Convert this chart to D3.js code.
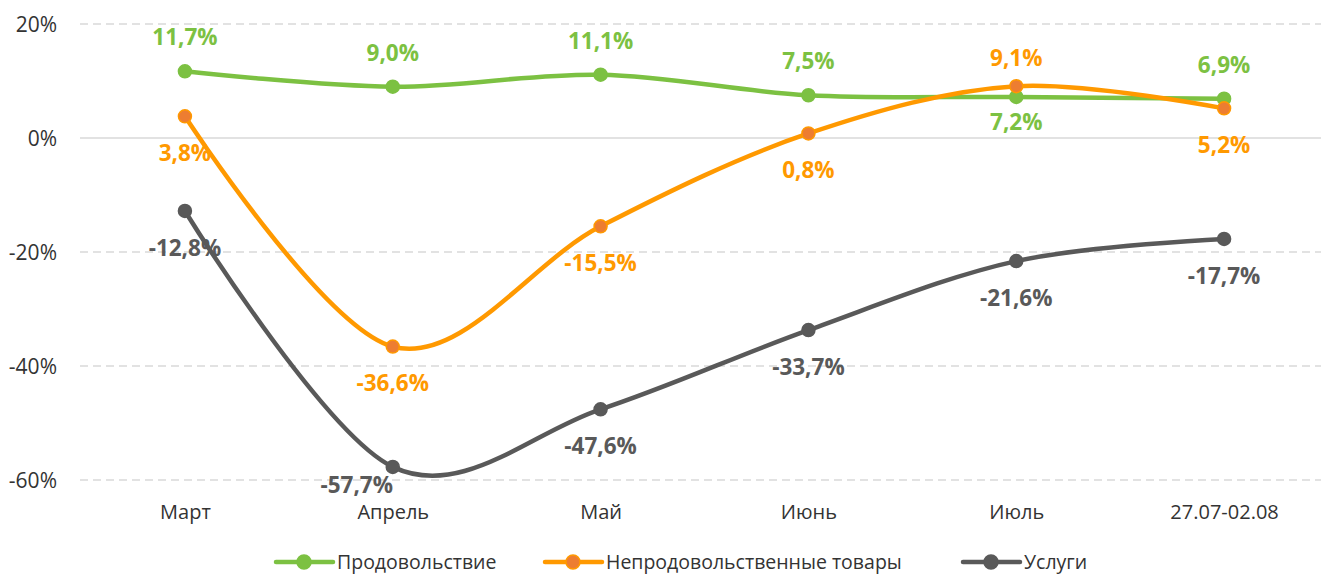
<!DOCTYPE html>
<html>
<head>
<meta charset="utf-8">
<script src="https://cdn.jsdelivr.net/npm/d3@7"></script>
<style>
  html, body { margin: 0; padding: 0; background: #fff; }
  svg { display: block; }
</style>
</head>
<body>
<svg id="chart" width="1321" height="575"></svg>
<script>
// ---- data ----
const categories = ["Март", "Апрель", "Май", "Июнь", "Июль", "27.07-02.08"];
const food = [11.7, 9.0, 11.1, 7.5, 7.2, 6.9];
const nonFood = [3.8, -36.6, -15.5, 0.8, 9.1, 5.2];
const services = [-12.8, -57.7, -47.6, -33.7, -21.6, -17.7];
const seriesNames = ["Продовольствие", "Непродовольственные товары", "Услуги"];
const yTicks = [20, 0, -20, -40, -60];

// ---- label placement (above / below) ----
const foodPlace = ["above", "above", "above", "above", "below", "above"];
const nonFoodPlace = ["below", "below", "below", "below", "above", "below"];
const servicesPlace = ["below", "below", "below", "below", "below", "below"];

const W = 1321, H = 575;
const svg = d3.select("#chart");
const fontFam = "'Open Sans', 'DejaVu Sans', sans-serif";

const x = d3.scalePoint().domain(categories).range([81, 1328]).padding(0.5);
const y = d3.scaleLinear().domain([-60, 20]).range([480, 24]);

const loc = d3.formatLocale({decimal: ",", thousands: " ", grouping: [3], currency: ["", ""], minus: "-"});
const fmt = loc.format(".1f");

// gridlines
const grid = svg.append("g");
yTicks.forEach(t => {
  grid.append("line")
    .attr("x1", 80).attr("x2", W)
    .attr("y1", y(t)).attr("y2", y(t))
    .attr("stroke", "#D9D9D9")
    .attr("stroke-width", 1.5)
    .attr("stroke-dasharray", t === 0 ? null : "8,5");
});

// y axis
const yAxis = d3.axisLeft(y).tickValues(yTicks).tickSize(0).tickPadding(0)
  .tickFormat(d => d + "%");
const gy = svg.append("g").attr("transform", "translate(57,0)").call(yAxis);
gy.select(".domain").remove();
gy.selectAll("text").attr("font-family", fontFam).attr("font-size", 21)
  .attr("fill", "#333333").attr("dy", "0.35em");

// x axis
const xAxis = d3.axisBottom(x).tickSize(0).tickPadding(0);
const gx = svg.append("g").attr("transform", "translate(0,512)").call(xAxis);
gx.select(".domain").remove();
gx.selectAll("text").attr("font-family", fontFam).attr("font-size", 20)
  .attr("fill", "#333333").attr("dy", "0.35em");

const series = [
  {name: seriesNames[0], values: food, place: foodPlace, color: "#7CC142", markerFill: "#7CC142", markerStroke: "#7CC142"},
  {name: seriesNames[1], values: nonFood, place: nonFoodPlace, color: "#FF9900", markerFill: "#ED7D31", markerStroke: "#FF9900"},
  {name: seriesNames[2], values: services, place: servicesPlace, color: "#595959", markerFill: "#595959", markerStroke: "#595959"}
];

const line = d3.line()
  .x((d, i) => x(categories[i]))
  .y(d => y(d))
  .curve(d3.curveCatmullRom.alpha(0));

// draw order: services, food, nonFood (orange on top of green)
const drawOrder = [2, 0, 1];
drawOrder.forEach(si => {
  const s = series[si];
  const g = svg.append("g");
  g.append("path").attr("d", line(s.values))
    .attr("fill", "none").attr("stroke", s.color)
    .attr("stroke-width", 4.5).attr("stroke-linecap", "round");
  g.selectAll("circle").data(s.values).join("circle")
    .attr("cx", (d, i) => x(categories[i]))
    .attr("cy", d => y(d))
    .attr("r", 6.5)
    .attr("fill", s.markerFill)
    .attr("stroke", s.markerStroke)
    .attr("stroke-width", 1.5);
});

// label nudges [dx, dy] keyed by "seriesIndex-pointIndex"
const nudge = {
  "2-1": [-36, -19],   // services Апрель
  "0-4": [0, -12],     // food Июль below
  "1-4": [0, 6]        // nonFood Июль above
};
series.forEach((s, si) => {
  const g = svg.append("g");
  s.values.forEach((v, i) => {
    const n = nudge[si + "-" + i] || [0, 0];
    const off = s.place[i] === "above" ? -34 : 37;
    g.append("text")
      .attr("x", x(categories[i]) + n[0])
      .attr("y", y(v) + off + n[1])
      .attr("dy", "0.35em")
      .attr("text-anchor", "middle")
      .attr("font-family", fontFam)
      .attr("font-size", 22.5)
      .attr("font-weight", 700)
      .attr("fill", s.color)
      .text(fmt(v) + "%");
  });
});

// legend
const legendY = 562;
const legendStarts = [276, 545, 963];
series.forEach((s, si) => {
  const lx = legendStarts[si];
  const g = svg.append("g").attr("transform", `translate(${lx},${legendY})`);
  g.append("line").attr("x1", 0).attr("x2", 57).attr("y1", 0).attr("y2", 0)
    .attr("stroke", s.color).attr("stroke-width", 4.5).attr("stroke-linecap", "round");
  g.append("circle").attr("cx", 28).attr("cy", 0).attr("r", 7)
    .attr("fill", s.markerFill).attr("stroke", s.markerStroke).attr("stroke-width", 1.5);
  g.append("text").attr("x", 61).attr("y", 0).attr("dy", "0.35em")
    .attr("font-family", fontFam).attr("font-size", 19.5).attr("fill", "#333333")
    .text(s.name);
});
</script>
</body>
</html>
